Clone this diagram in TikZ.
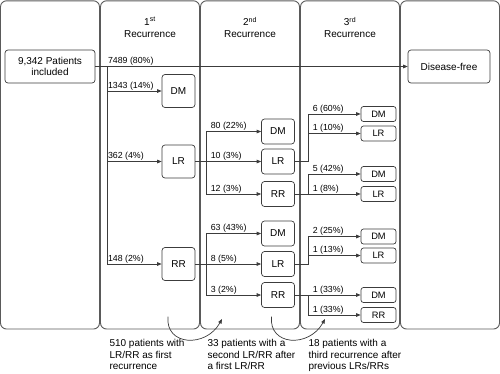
\documentclass[tikz,border=0pt]{standalone}
\usepackage{fontspec}
\setmainfont{Liberation Sans}
\usetikzlibrary{arrows.meta}
\definecolor{lc}{RGB}{60,60,60}
\definecolor{pc}{RGB}{90,90,90}
\begin{document}
\begin{tikzpicture}[x=1pt,y=-1pt,
  panel/.style={draw=pc, line width=0.9pt, rounded corners=6pt},
  title/.style={align=center, inner sep=0pt, font=\fontsize{10}{12.3}\selectfont},
  bigbox/.style={draw=lc, line width=0.7pt, rounded corners=3pt, minimum width=90pt, minimum height=33pt, inner sep=0pt, align=center, font=\fontsize{10}{11.5}\selectfont},
  box/.style={draw=lc, line width=0.7pt, rounded corners=3pt, minimum width=33pt, minimum height=33pt, inner sep=0pt, font=\fontsize{10}{12}\selectfont},
  mbox/.style={box, minimum height=25pt},
  sbox/.style={box, minimum width=35pt, minimum height=15pt, rounded corners=2.5pt, font=\fontsize{9.3}{11}\selectfont},
  lab/.style={anchor=south west, inner sep=0.8pt, font=\fontsize{8.8}{10}\selectfont},
  note/.style={anchor=north west, align=left, inner sep=0pt, font=\fontsize{10}{11.6}\selectfont},
  ln/.style={draw=lc, line width=0.7pt},
  arr/.style={ln, -{Triangle[length=4.5pt,width=3.6pt]}}
]
\useasboundingbox (0,0) rectangle (500,373);
% panels
\foreach \i in {0,...,4}
  \draw[panel] (\i*100+0.5,0.8) rectangle (\i*100+99.5,329);
% titles
\node[title] (t1) at (150,27.5) {1\textsuperscript{st}\\Recurrence};
\node[title] (t2) at (250,27.5) {2\textsuperscript{nd}\\Recurrence};
\node[title] (t3) at (350,27.5) {3\textsuperscript{rd}\\Recurrence};
% boxes
\node[bigbox] (pat) at (50,66.5) {9,342 Patients\\included};
\node[bigbox, minimum width=82pt] (free) at (449,66.5) {Disease-free};
\node[box] (dm1) at (178.5,91) {DM};
\node[box] (lr1) at (178.5,161.5) {LR};
\node[box] (rr1) at (178.5,264) {RR};
\node[mbox] (dm2a) at (278,131.5) {DM};
\node[mbox] (lr2a) at (278,161.5) {LR};
\node[mbox] (rr2a) at (278,194) {RR};
\node[mbox] (dm2b) at (278,233.5) {DM};
\node[mbox] (lr2b) at (278,264) {LR};
\node[mbox] (rr2b) at (278,295) {RR};
\node[sbox] (dm3a) at (378.5,114) {DM};
\node[sbox] (lr3a) at (378.5,133.5) {LR};
\node[sbox] (dm3b) at (378.5,174) {DM};
\node[sbox] (lr3b) at (378.5,194) {LR};
\node[sbox] (dm3c) at (378.5,236.5) {DM};
\node[sbox] (lr3c) at (378.5,255.5) {LR};
\node[sbox] (dm3d) at (378.5,295) {DM};
\node[sbox] (rr3d) at (378.5,315) {RR};
% junction columns
\coordinate (v1) at (107,0);
\coordinate (v2) at (206,0);
\coordinate (v3) at (308,0);
% column 1
\draw[arr] (pat) -- (free);
\draw[ln] (v1 |- pat) -- (v1 |- rr1);
\draw[arr] (v1 |- dm1) -- (dm1);
\draw[arr] (v1 |- lr1) -- (lr1);
\draw[arr] (v1 |- rr1) -- (rr1);
\node[lab] (l1) at (v1 |- pat) {7489 (80\%)};
\node[lab] (l2) at (v1 |- dm1) {1343 (14\%)};
\node[lab] (l3) at (v1 |- lr1) {362 (4\%)};
\node[lab] (l4) at (v1 |- rr1) {148 (2\%)};
% column 2
\draw[arr] (lr1) -- (lr2a);
\draw[ln] (v2 |- dm2a) -- (v2 |- rr2a);
\draw[arr] (v2 |- dm2a) -- (dm2a);
\draw[arr] (v2 |- rr2a) -- (rr2a);
\draw[arr] (rr1) -- (lr2b);
\draw[ln] (v2 |- dm2b) -- (v2 |- rr2b);
\draw[arr] (v2 |- dm2b) -- (dm2b);
\draw[arr] (v2 |- rr2b) -- (rr2b);
\begin{scope}[lab/.append style={xshift=3.8pt}]
\node[lab] (l5) at (v2 |- dm2a) {80 (22\%)};
\node[lab] (l6) at (v2 |- lr2a) {10 (3\%)};
\node[lab] (l7) at (v2 |- rr2a) {12 (3\%)};
\node[lab] (l8) at (v2 |- dm2b) {63 (43\%)};
\node[lab] (l9) at (v2 |- lr2b) {8 (5\%)};
\node[lab] (l10) at (v2 |- rr2b) {3 (2\%)};
\node[lab] (l11) at (v3 |- dm3a) {6 (60\%)};
\node[lab] (l12) at (v3 |- lr3a) {1 (10\%)};
\node[lab] (l13) at (v3 |- dm3b) {5 (42\%)};
\node[lab] (l14) at (v3 |- lr3b) {1 (8\%)};
\node[lab] (l15) at (v3 |- dm3c) {2 (25\%)};
\node[lab] (l16) at (v3 |- lr3c) {1 (13\%)};
\node[lab] (l17) at (v3 |- dm3d) {1 (33\%)};
\node[lab] (l18) at (v3 |- rr3d) {1 (33\%)};
\end{scope}
% column 3
\draw[ln] (lr2a) -- (v3 |- lr2a) -- (v3 |- dm3a);
\draw[arr] (v3 |- dm3a) -- (dm3a);
\draw[arr] (v3 |- lr3a) -- (lr3a);
\draw[arr] (rr2a) -- (lr3b);
\draw[ln] (v3 |- rr2a) -- (v3 |- dm3b);
\draw[arr] (v3 |- dm3b) -- (dm3b);
\draw[ln] (lr2b) -- (v3 |- lr2b) -- (v3 |- dm3c);
\draw[arr] (v3 |- dm3c) -- (dm3c);
\draw[arr] (v3 |- lr3c) -- (lr3c);
\draw[arr] (rr2b) -- (dm3d);
\draw[ln] (v3 |- rr2b) -- (v3 |- rr3d);
\draw[arr] (v3 |- rr3d) -- (rr3d);
% notes
\node[note] (n1) at (109.3,339) {510 patients with\\LR/RR as first\\recurrence};
\node[note] (n2) at (207.3,339) {33 patients with a\\second LR/RR after\\a first LR/RR};
\node[note] (n3) at (308.3,339) {18 patients with a\\third recurrence after\\previous LRs/RRs};
% curved arrows
\coordinate (c1s) at (168,316.5);
\coordinate (c1e) at (222,319);
\coordinate (c2s) at (271.5,316.5);
\coordinate (c2e) at (325,319);
\draw[arr] (c1s) .. controls (165,346) and (206,348) .. (c1e);
\draw[arr] (c2s) .. controls (268.5,346) and (309,348) .. (c2e);
\end{tikzpicture}
\end{document}
